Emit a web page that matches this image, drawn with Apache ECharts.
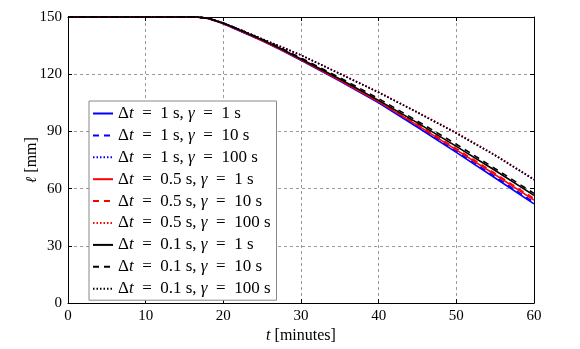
<!DOCTYPE html>
<html>
<head>
<meta charset="utf-8">
<script src="https://cdn.jsdelivr.net/npm/echarts@6/dist/echarts.min.js"></script>
<style>
html,body{margin:0;padding:0;background:#fff;}
#c{width:580px;height:349px;}
</style>
</head>
<body>
<div id="c"></div>
<script>
const tMin = [0, 16.5, 18, 20, 22.5, 25, 27.5, 30, 35, 40, 45, 50, 55, 60];
const dtVals = ['1', '1', '1', '0.5', '0.5', '0.5', '0.1', '0.1', '0.1'];
const gammaVals = ['1', '10', '100', '1', '10', '100', '1', '10', '100'];
const dt1_g1   = [150, 150, 149.3, 146.5, 142.0, 137.5, 132.6, 127.3, 116.4, 105.0, 92.2, 79.0, 65.6, 52.0];
const dt1_g10  = [150, 150, 149.3, 146.5, 142.1, 137.7, 132.9, 127.7, 116.9, 105.6, 92.8, 79.6, 66.3, 52.8];
const dt1_g100 = [150, 150, 149.4, 146.8, 142.8, 138.5, 134.3, 130.0, 120.3, 110.5, 100.0, 89.2, 77.5, 64.6];
const dt05_g1   = [150, 150, 149.3, 146.6, 142.2, 137.7, 132.8, 127.6, 116.8, 105.6, 93.2, 80.3, 67.3, 54.0];
const dt05_g10  = [150, 150, 149.3, 146.6, 142.3, 137.9, 133.1, 128.0, 117.3, 106.1, 93.8, 81.0, 68.0, 54.8];
const dt05_g100 = [150, 150, 149.4, 146.8, 142.8, 138.5, 134.3, 130.0, 120.4, 110.6, 100.1, 89.4, 77.7, 65.0];
const dt01_g1   = [150, 150, 149.4, 146.8, 142.5, 138.0, 133.2, 128.0, 117.5, 106.3, 94.5, 82.2, 69.5, 56.5];
const dt01_g10  = [150, 150, 149.4, 146.9, 142.7, 138.3, 133.6, 128.5, 118.2, 107.2, 95.4, 83.3, 70.5, 57.5];
const dt01_g100 = [150, 150, 149.4, 146.8, 142.8, 138.5, 134.3, 130.0, 120.2, 110.4, 99.9, 89.0, 77.4, 64.8];
const xTicks = [0, 10, 20, 30, 40, 50, 60];
const yTicks = [0, 30, 60, 90, 120, 150];

const seriesVals = [dt1_g1, dt1_g10, dt1_g100, dt05_g1, dt05_g10, dt05_g100, dt01_g1, dt01_g10, dt01_g100];
const colors = ['#0000ff', '#0000ff', '#0000ff', '#ff0000', '#ff0000', '#ff0000', '#000000', '#000000', '#000000'];
const dashes = ['solid', [6, 5], [1.5, 2], 'solid', [6, 5], [1.5, 2], 'solid', [6, 5], [1.5, 2]];
const names = dtVals.map((d, i) => 'dt' + d + '_g' + gammaVals[i]);

const FONT = 'Liberation Serif';
const chart = echarts.init(document.getElementById('c'), null, {renderer: 'canvas'});

const series = seriesVals.map((vals, i) => ({
  name: names[i],
  type: 'line',
  data: tMin.map((t, k) => [t, vals[k]]),
  symbol: 'none',
  clip: false,
  lineStyle: {color: colors[i], width: 1.6, type: dashes[i]},
  itemStyle: {color: colors[i]},
  animation: false
}));

const axisCommonX = {
  type: 'value', min: 0, max: 60, interval: 10,
  axisLine: {show: true, onZero: false, lineStyle: {color: '#000', width: 1}},
  axisTick: {show: true, inside: true, length: 4, lineStyle: {color: '#000'}},
};
const axisCommonY = {
  type: 'value', min: 0, max: 150, interval: 30,
  axisLine: {show: true, onZero: false, lineStyle: {color: '#000', width: 1}},
  axisTick: {show: true, inside: true, length: 4, lineStyle: {color: '#000'}},
};

chart.setOption({
  backgroundColor: '#fff',
  animation: false,
  grid: {left: 68, right: 46, top: 17, bottom: 45, containLabel: false},
  xAxis: [
    Object.assign({}, axisCommonX, {
      position: 'bottom',
      name: '{i|t} [minutes]',
      nameLocation: 'middle', nameGap: 23,
      nameTextStyle: {fontFamily: FONT, fontSize: 16, color: '#000',
        rich: {i: {fontFamily: FONT, fontStyle: 'italic', fontSize: 16, color: '#000'}}},
      axisLabel: {fontFamily: FONT, fontSize: 15, color: '#000', margin: 5},
      splitLine: {show: true, lineStyle: {color: '#9a9a9a', type: [3, 3], width: 1}}
    }),
    Object.assign({}, axisCommonX, {
      position: 'top', axisLabel: {show: false}, splitLine: {show: false}
    })
  ],
  yAxis: [
    Object.assign({}, axisCommonY, {
      position: 'left',
      name: '{i|ℓ} [mm]',
      nameLocation: 'middle', nameGap: 28, nameRotate: 90,
      nameMoveOverlap: false,
      nameTextStyle: {fontFamily: FONT, fontSize: 16, color: '#000',
        rich: {i: {fontFamily: 'DejaVu Serif', fontStyle: 'italic', fontSize: 15, color: '#000'}}},
      axisLabel: {fontFamily: FONT, fontSize: 15, color: '#000', margin: 6},
      splitLine: {show: true, lineStyle: {color: '#9a9a9a', type: [3, 3], width: 1}}
    }),
    Object.assign({}, axisCommonY, {
      position: 'right', axisLabel: {show: false}, splitLine: {show: false}
    })
  ],
  legend: {
    show: true,
    orient: 'vertical',
    left: 89, top: 101,
    backgroundColor: '#fff',
    borderColor: '#888',
    borderWidth: 1,
    borderRadius: 0,
    padding: [4, 6, 3, 3],
    itemWidth: 20, itemHeight: 16,
    itemGap: 4.9,
    itemStyle: {opacity: 0},
    data: names,
    textStyle: {
      fontFamily: FONT, fontSize: 17, color: '#000', lineHeight: 16,
      rich: {
        n: {fontFamily: FONT, fontSize: 17, color: '#000', lineHeight: 16},
        i: {fontFamily: FONT, fontStyle: 'italic', fontSize: 17, color: '#000', lineHeight: 16}
      }
    },
    formatter: function (name) {
      const i = names.indexOf(name);
      return '{n|Δ}{i|t}{n|  =  ' + dtVals[i] + ' s, }{i|γ}{n|  =  ' + gammaVals[i] + ' s}';
    }
  },
  series: series
});
</script>
</body>
</html>
